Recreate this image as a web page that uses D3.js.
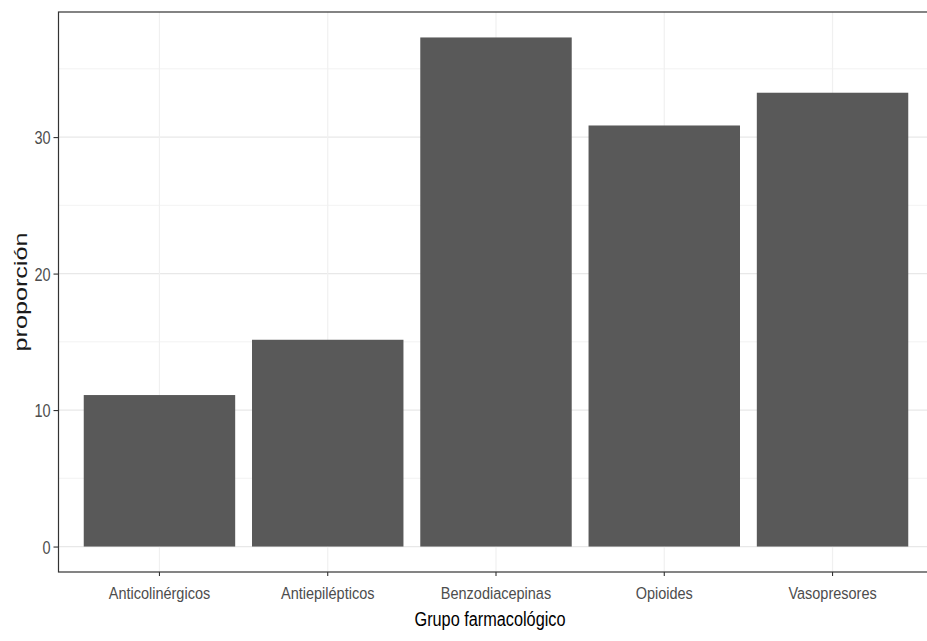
<!DOCTYPE html>
<html>
<head>
<meta charset="utf-8">
<script src="https://cdn.jsdelivr.net/npm/d3@7"></script>
<style>
  html, body { margin: 0; padding: 0; background: #fff; }
  svg { display: block; }
  text { font-family: "Liberation Sans", Arial, sans-serif; }
</style>
</head>
<body>
<svg id="chart" width="927" height="641"></svg>
<script>
const categories = ["Anticolinérgicos", "Antiepilépticos", "Benzodiacepinas", "Opioides", "Vasopresores"];
const values = [11.1, 15.15, 37.3, 30.85, 33.25];
const yTicks = [0, 10, 20, 30];
const yMinorTicks = [5, 15, 25, 35];
const xTitle = "Grupo farmacológico";
const yTitle = "proporción";

const svg = d3.select("#chart");
const panel = { left: 58.5, right: 933.5, top: 12, bottom: 572 };

const maxV = d3.max(values);
const pad = 0.05 * maxV;
const y = d3.scaleLinear().domain([-pad, maxV + pad]).range([panel.bottom, panel.top]);
const x = d3.scaleBand().domain(categories).range([panel.left, panel.right])
  .paddingInner(0.1).paddingOuter(0.15);

const g = svg.append("g");

// grid minor
g.selectAll(".minor").data(yMinorTicks).join("line")
  .attr("x1", panel.left).attr("x2", panel.right)
  .attr("y1", d => y(d)).attr("y2", d => y(d))
  .attr("stroke", "#efefef").attr("stroke-width", 0.8);
// grid major
g.selectAll(".major").data(yTicks).join("line")
  .attr("x1", panel.left).attr("x2", panel.right)
  .attr("y1", d => y(d)).attr("y2", d => y(d))
  .attr("stroke", "#e8e8e8").attr("stroke-width", 1.2);
g.selectAll(".vmajor").data(categories).join("line")
  .attr("x1", d => x(d) + x.bandwidth() / 2).attr("x2", d => x(d) + x.bandwidth() / 2)
  .attr("y1", panel.top).attr("y2", panel.bottom)
  .attr("stroke", "#f0f0f0").attr("stroke-width", 1.2);

// bars
g.selectAll(".bar").data(categories).join("rect")
  .attr("x", d => x(d))
  .attr("width", x.bandwidth())
  .attr("y", (d, i) => y(values[i]))
  .attr("height", (d, i) => y(0) - y(values[i]))
  .attr("fill", "#595959");

// panel border
g.append("rect")
  .attr("x", panel.left).attr("y", panel.top)
  .attr("width", panel.right - panel.left).attr("height", panel.bottom - panel.top)
  .attr("fill", "none").attr("stroke", "#333").attr("stroke-width", 1.2);

// y axis ticks + labels
const yAxis = svg.append("g").attr("transform", `translate(${panel.left},0)`)
  .call(d3.axisLeft(y).tickValues(yTicks).tickSize(5).tickPadding(3).tickFormat(d3.format("d")));
yAxis.select(".domain").remove();
yAxis.selectAll(".tick line").attr("stroke", "#333").attr("stroke-width", 1.1);
yAxis.selectAll(".tick text")
  .attr("fill", "#4d4d4d").attr("font-size", 14.5)
  .attr("font-family", "Liberation Sans, Arial, sans-serif")
  .attr("dy", null).attr("dominant-baseline", "central")
  .attr("transform", function () {
    const xx = +d3.select(this).attr("x");
    return `translate(${xx},0) scale(1,1.25)`;
  }).attr("x", 0);

// x axis ticks + labels
const xAxis = svg.append("g").attr("transform", `translate(0,${panel.bottom})`)
  .call(d3.axisBottom(x).tickSize(4).tickPadding(3));
xAxis.select(".domain").remove();
xAxis.selectAll(".tick line").attr("stroke", "#333").attr("stroke-width", 1.1);
xAxis.selectAll(".tick text")
  .attr("fill", "#4d4d4d").attr("font-size", 14.5)
  .attr("font-family", "Liberation Sans, Arial, sans-serif")
  .attr("y", 0).attr("dy", null)
  .attr("transform", "translate(0,27) scale(1,1.2)");

// axis titles
svg.append("text")
  .attr("transform", `translate(490,626) scale(0.93,1.15)`)
  .attr("text-anchor", "middle")
  .attr("font-size", 17.5).attr("fill", "#000")
  .text(xTitle);

svg.append("text")
  .attr("transform", `translate(27,${(panel.top + panel.bottom) / 2}) rotate(-90) scale(1.4,1)`)
  .attr("text-anchor", "middle")
  .attr("font-size", 18).attr("fill", "#1a1a1a")
  .text(yTitle);
</script>
</body>
</html>
